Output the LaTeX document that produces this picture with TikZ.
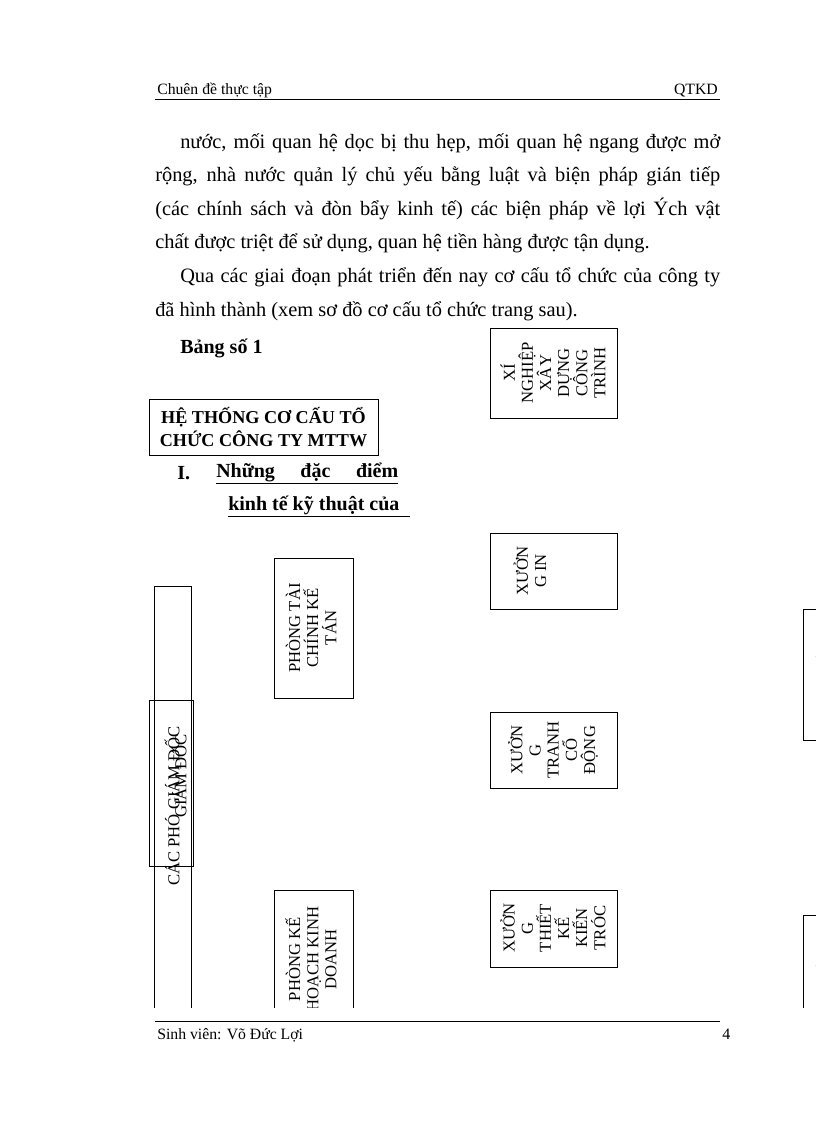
\documentclass[tikz,border=0pt]{standalone}
\usepackage{fontspec}
\setmainfont{Liberation Serif}
\begin{document}
\begin{tikzpicture}[x=0.75pt,y=-0.75pt,
  bx/.style={draw,line width=0.6pt},
  rt/.style={rotate=90,align=center,font=\fontsize{12.5}{13.6}\selectfont,inner sep=0pt},
  body/.style={anchor=base west,inner sep=0pt,font=\fontsize{15.3}{18}\selectfont},
  bbody/.style={anchor=base west,inner sep=0pt,font=\fontsize{15}{18}\selectfont\bfseries},
  small/.style={anchor=base west,inner sep=0pt,font=\fontsize{11.8}{13}\selectfont}]
\useasboundingbox (0,0) rectangle (816,1123);
% header
\node[small] (h1) at (157,95) {Chuên đề thực tập};
\node[small,anchor=base east] (h2) at (718,95) {QTKD};
\draw[line width=0.5pt] (155,99) -- (720,99);
% body
\node[body] (l1) at (180,149) {\hbox to 405pt{nước, mối quan hệ dọc bị thu hẹp, mối quan hệ ngang được mở}};
\node[body] (l2) at (155,182) {\hbox to 423.75pt{rộng, nhà nước quản lý chủ yếu bằng luật và biện pháp gián tiếp}};
\node[body] (l3) at (155,215) {\hbox to 423.75pt{(các chính sách và đòn bẩy kinh tế) các biện pháp về lợi Ých vật}};
\node[body] (l4) at (155,248) {chất được triệt để sử dụng, quan hệ tiền hàng được tận dụng.};
\node[body] (l5) at (180,282) {\hbox to 405pt{Qua các giai đoạn phát triển đến nay cơ cấu tổ chức của công ty}};
\node[body] (l6) at (155,316) {đã hình thành (xem sơ đồ cơ cấu tổ chức trang sau).};
\node[bbody] (bang) at (180,353) {Bảng số 1};
% title box
\draw[bx] (149,399) rectangle (378,455);
\node[align=center,font=\fontsize{13.6}{17}\selectfont\bfseries,inner sep=0pt] (title) at (263.5,427) {HỆ THỐNG CƠ CẤU TỔ\\CHỨC CÔNG TY MTTW};
\node[bbody] (roman) at (177,479) {I.};
\node[bbody] (u1) at (216,477) {\underline{\hbox to 136.5pt{Những\hfill đặc\hfill điểm}}};
\node[bbody] (u2) at (228,510) {\underline{\hbox to 136.5pt{kinh tế kỹ thuật của\hfill}}};
% diagram (clipped at page bottom area)
\begin{scope}
\clip (0,0) rectangle (816,1007);
\draw[bx] (490,328) rectangle (617,418);
\node[rt] (xn) at (553,373) {XÍ\\NGHIỆP\\XÂY\\DỰNG\\CÔNG\\TRÌNH};
\draw[bx] (490,533) rectangle (617,609);
\node[rt] (xin) at (530,571) {XƯỞN\\G IN};
\draw[bx] (274,558) rectangle (353,698);
\node[rt] (ptc) at (311,628) {PHÒNG TÀI\\CHÍNH KẾ\\TÁN};
\draw[bx] (154,586) rectangle (191,1010);
\node[rt,anchor=west] (pgd) at (172,886) {CÁC PHÓ GIÁM ĐỐC};
\draw[bx] (149,700) rectangle (193,866);
\node[rt] (gd) at (179,776) {GIÁM ĐỐC};
\draw[bx] (490,712) rectangle (617,788);
\node[rt] (xtr) at (553,750) {XƯỞN\\G\\TRANH\\CỔ\\ĐỘNG};
\draw[bx] (274,890) rectangle (353,1010);
\node[rt,anchor=west] (pkh) at (311,1012) {PHÒNG KẾ\\HOẠCH KINH\\DOANH};
\draw[bx] (490,890) rectangle (617,967);
\node[rt] (xtk) at (553,928) {XƯỞN\\G\\THIẾT\\KẾ\\KIẾN\\TRÓC};
\draw[bx] (803,609) rectangle (860,740);
\node[rt,font=\fontsize{7}{8}\selectfont\bfseries] (tt1) at (820,674) {TRUNG TÂM};
\draw[bx] (803,915) rectangle (860,1010);
\node[rt,font=\fontsize{7}{8}\selectfont\bfseries,anchor=west] (tt2) at (820,1012) {TRUNG TÂM};
\end{scope}
% footer
\draw[line width=0.5pt] (155,1021) -- (720,1021);
\node[small] (f1) at (157,1039) {Sinh viên: Võ Đức Lợi};
\node[small,font=\fontsize{12}{14}\selectfont] (f2) at (722,1039) {4};
\end{tikzpicture}
\end{document}
